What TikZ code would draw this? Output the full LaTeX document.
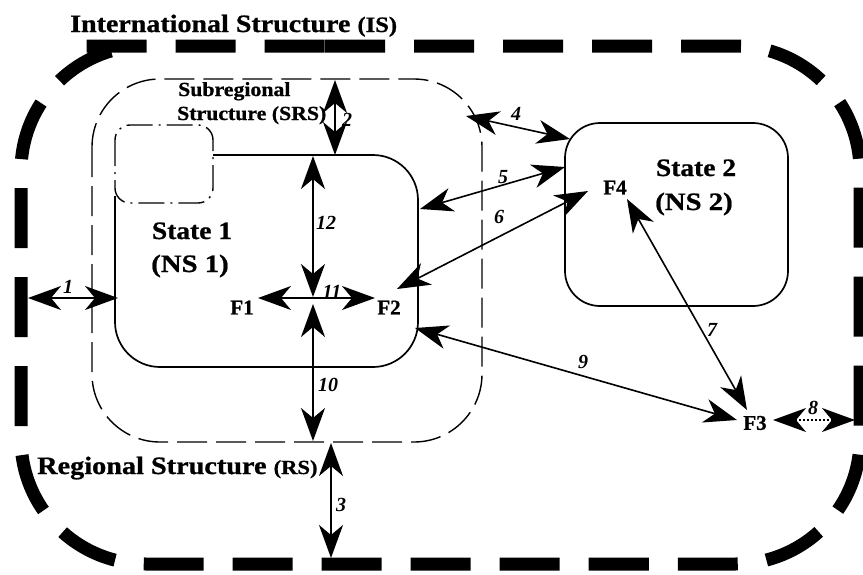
\documentclass[tikz,border=0pt]{standalone}
\usepackage{fontspec}
\setmainfont{Liberation Serif}[BoldFeatures={FakeBold=0.8}]
\usetikzlibrary{arrows.meta}
\tikzset{
  isline/.style={line width=13pt, dash pattern=on 60pt off 29pt},
  srsline/.style={line width=1.4pt, dash pattern=on 30pt off 9pt},
  subline/.style={line width=1.4pt, dash pattern=on 26pt off 6pt on 2pt off 6pt},
  statebox/.style={line width=1.7pt},
  tipk/.tip={Stealth[length=33pt,width=24pt,inset=10pt]},
  link/.style={line width=1.6pt, tipk-tipk},
  dotlink/.style={line width=1.6pt, tipk-tipk, dash pattern=on 2pt off 2pt},
  num/.style={font=\fontsize{20}{22}\selectfont\bfseries\itshape, inner sep=0pt},
  flab/.style={font=\fontsize{21}{24}\selectfont\bfseries, inner sep=0pt},
  slab/.style={font=\fontsize{25}{30}\selectfont\bfseries, inner sep=0pt},
}
\begin{document}
\begin{tikzpicture}[x=1pt,y=-1pt]
\useasboundingbox (0,0) rectangle (863,574);

% International structure (outer thick dashed border)
\draw[isline, rounded corners=125pt] (200,46) -- (860,46) -- (860,564) -- (21,564) -- (21,46) -- cycle;
% Subregional structure
\draw[srsline, rounded corners=68pt] (92,79) rectangle (482,442);
% small sub-unit box
\draw[subline, rounded corners=15pt] (115,125) rectangle (213,203);
% State 1
\draw[statebox, rounded corners=45pt] (213,155) -- (418,155) -- (418,367) -- (115,367) -- (115,196);
% State 2
\draw[statebox, rounded corners=35pt] (565,123) rectangle (788,306);

% Texts
\node[anchor=base west, inner sep=0pt] (ttl) at (70,32)
  {\scalebox{1.12}[1]{\fontsize{25}{30}\selectfont\bfseries International Structure \fontsize{22}{26}\selectfont(IS)}};
\node[anchor=base west, inner sep=0pt] (rsl) at (37,474)
  {\scalebox{1.13}[1]{\fontsize{25}{30}\selectfont\bfseries Regional Structure \fontsize{20}{24}\selectfont(RS)}};
\node[anchor=base west, inner sep=0pt] (srs1) at (178,96)
  {\scalebox{1.09}[1]{\fontsize{20}{24}\selectfont\bfseries Subregional}};
\node[anchor=base west, inner sep=0pt] (srs2) at (177,120)
  {\scalebox{1.09}[1]{\fontsize{20}{24}\selectfont\bfseries Structure (SRS)}};
\node[slab, anchor=base] (st1) at (192,239) {\scalebox{1.1}[1]{State 1}};
\node[slab, anchor=base] (ns1) at (190,272) {\scalebox{1.15}[1]{(NS 1)}};
\node[slab, anchor=base] (st2) at (696,176) {\scalebox{1.1}[1]{State 2}};
\node[slab, anchor=base] (ns2) at (694,210) {\scalebox{1.15}[1]{(NS 2)}};

\node[flab] (f1) at (242,307.5) {F1};
\node[flab] (f2) at (389,307.5) {F2};
\node[flab] (f3) at (755,423) {F3};
\node[flab] (f4) at (615,187.5) {F4};

% Connector end points
\coordinate (a1s) at (28,298);   \coordinate (a1e) at (118,298);
\coordinate (a2s) at (335,80);   \coordinate (a2e) at (335,155);
\coordinate (a3s) at (331,443);  \coordinate (a3e) at (331,558);
\coordinate (a4s) at (466,116);  \coordinate (a4e) at (570,139);
\coordinate (a5s) at (420,209);  \coordinate (a5e) at (565,167);
\coordinate (a6s) at (397,289);  \coordinate (a6e) at (588,191);
\coordinate (a7s) at (627,199);  \coordinate (a7e) at (747,410);
\coordinate (a8s) at (773,420);  \coordinate (a8e) at (855,420);
\coordinate (a9s) at (415,328);  \coordinate (a9e) at (737,420);
\coordinate (a10s) at (313,304); \coordinate (a10e) at (313,441);
\coordinate (a11s) at (258,298); \coordinate (a11e) at (375,298);
\coordinate (a12s) at (313,156); \coordinate (a12e) at (313,297);

\draw[link] (a1s) -- (a1e);
\draw[link] (a2s) -- (a2e);
\draw[link] (a3s) -- (a3e);
\draw[link] (a4s) -- (a4e);
\draw[link] (a5s) -- (a5e);
\draw[link] (a6s) -- (a6e);
\draw[link] (a7s) -- (a7e);
\draw[dotlink] (a8s) -- (a8e);
\draw[link] (a9s) -- (a9e);
\draw[link] (a10s) -- (a10e);
\draw[link] (a11s) -- (a11e);
\draw[link] (a12s) -- (a12e);

% Connector labels
\node[num] (n1) at (68,287) {1};
\node[num] (n2) at (347,120) {2};
\node[num] (n3) at (341,505) {3};
\node[num] (n4) at (516,114) {4};
\node[num] (n5) at (503,177) {5};
\node[num] (n6) at (499,217) {6};
\node[num] (n7) at (712,330) {7};
\node[num] (n8) at (813,408) {8};
\node[num] (n9) at (583,362) {9};
\node[num] (n10) at (328,385) {10};
\node[num] (n11) at (332,292) {11};
\node[num] (n12) at (326,223) {12};
\end{tikzpicture}
\end{document}
